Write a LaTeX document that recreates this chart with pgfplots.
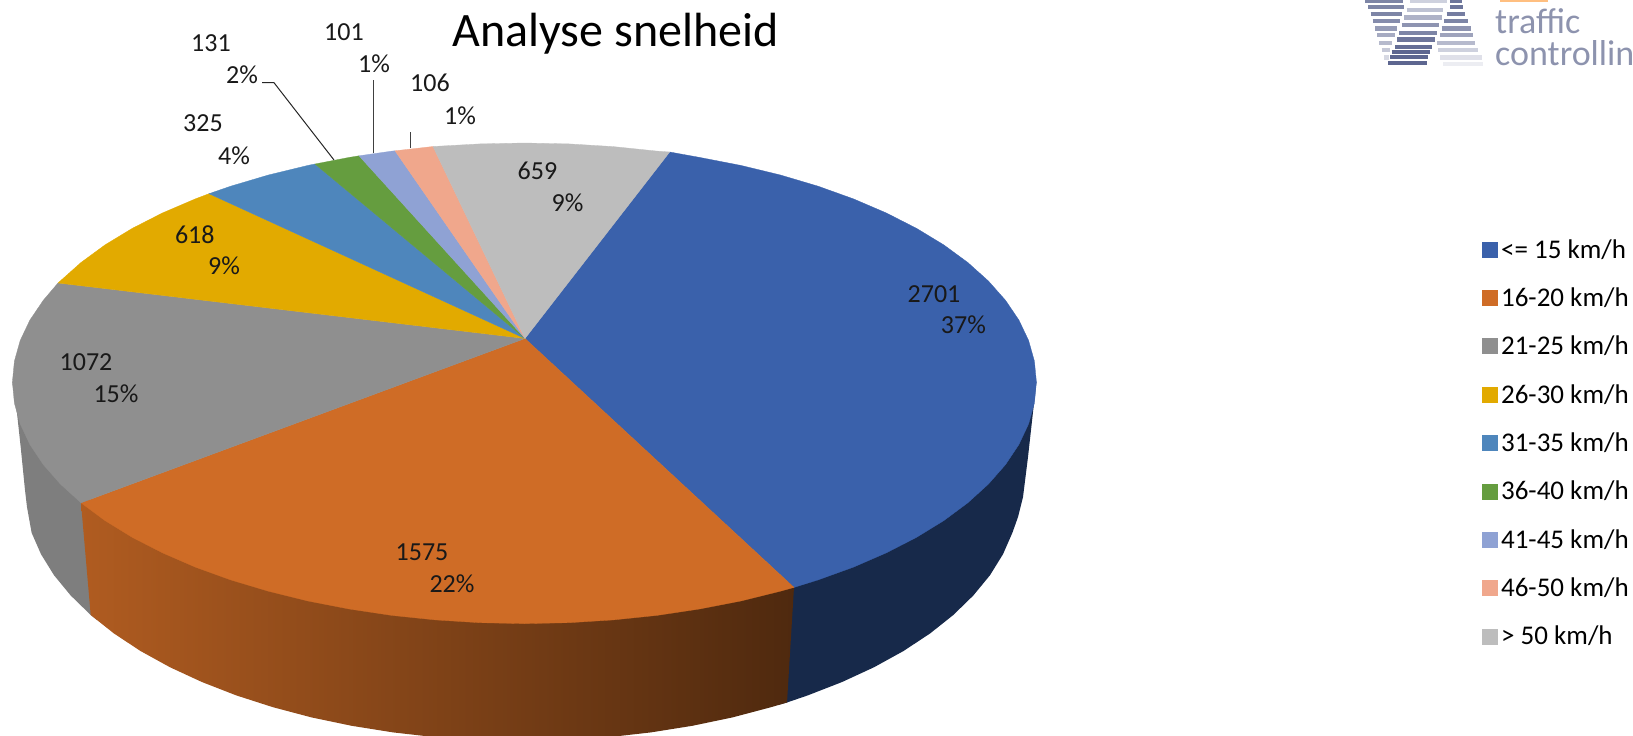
\documentclass[border=0pt]{standalone}
\usepackage{fontspec}
\setmainfont{Carlito}
\usepackage{pgfplots}
\pgfplotsset{compat=1.18}
\definecolor{cA}{HTML}{3A61AB}
\definecolor{cB}{HTML}{CF6C26}
\definecolor{cC}{HTML}{8F8F8F}
\definecolor{cD}{HTML}{E2AA00}
\definecolor{cE}{HTML}{4E86BC}
\definecolor{cF}{HTML}{659D3F}
\definecolor{cG}{HTML}{8FA2D4}
\definecolor{cH}{HTML}{F0A78C}
\definecolor{cI}{HTML}{BDBDBD}
\definecolor{wallA}{HTML}{17294A}
\definecolor{logo}{HTML}{5D6690}
\definecolor{logotxt}{HTML}{8D93AE}
\newcommand{\lab}{\fontsize{26}{28}\selectfont}
\begin{document}
\begin{tikzpicture}
\useasboundingbox (0,0) rectangle (1633pt,736pt);
\clip (0,0) rectangle (1633pt,736pt);
\begin{axis}[at={(0,0)},anchor=south west,scale only axis,width=1633pt,height=736pt,
  xmin=0,xmax=1633,ymin=0,ymax=736,y dir=reverse,hide axis,clip=true,
  title={Analyse snelheid},
  title style={at={(0.3769,0.9466)},anchor=center,font=\fontsize{48}{50}\selectfont,inner sep=0pt},
  legend cell align=left,
  legend image code/.code={\fill[#1] (0pt,-7.5pt) rectangle (15pt,7.5pt);},
  legend style={at={(0.9076,0.6765)},anchor=north west,draw=none,fill=none,font=\fontsize{27}{29}\selectfont,
    inner xsep=0pt,inner ysep=0pt,row sep=26.1pt,nodes={inner xsep=3.5pt,inner ysep=1pt}},
  logoline/.style={forget plot,line width=4.4pt},
]
% side walls
\addplot[forget plot,fill=wallA,draw=none] coordinates {(782,587)(1036.4,382)(1034,403)(1028,457)(1023,497)(1018,517)(1012.4,532.7)(1003,554.2)(990,575.2)(973.3,595.5)(953.3,615)(930,633.5)(903.5,651)(874.1,667.2)(842.1,682)(807.7,695.4)(787,702.5)(778,705)} --cycle;
\addplot[forget plot,fill=cC!88!black,draw=none] coordinates {(12.4,382)(92,503)(97,620)(90.7,615)(70.7,595.5)(54,575.2)(41,554.2)(31.6,532.7)(27,507)(25,490)(21,450)(17,413)} --cycle;
\addplot[forget plot,draw=none,left color=cB!85!black,middle color=cB!58!black,right color=cB!38!black] coordinates {(81,503)(794,587)(787,702.5)(771,707.2)(732.5,717.4)(692.3,725.8)(650.9,732.4)(608.5,737.2)(565.4,740)(522,741)(478.6,740)(435.5,737.2)(393.1,732.4)(351.7,725.8)(311.5,717.4)(273,707.2)(236.3,695.4)(201.9,682)(169.9,667.2)(140.5,651)(114,633.5)(90.7,615)} --cycle;
% top faces
\addplot[fill=cA,draw=cA,line width=0.3pt] coordinates {(525,338.5)(669.7,152)(699.5,157.4)(740.8,165.4)(780.4,175)(818.1,186.2)(853.5,198.9)(886.4,213)(916.6,228.4)(943.8,244.9)(967.8,262.5)(988.4,281)(1005.5,300.3)(1018.9,320.1)(1028.6,340.5)(1034.4,361.2)(1036.4,382)(1034.4,403.1)(1028.6,423.9)(1018.9,444.5)(1005.5,464.6)(988.4,484.1)(967.8,502.8)(943.8,520.6)(916.6,537.3)(886.4,552.8)(853.5,567.1)(818.1,579.9)(794,587.4)} --cycle;
\addlegendentry{<= 15 km/h}
\addplot[fill=cB,draw=cB,line width=0.3pt] coordinates {(525,338.5)(794,587.4)(780.4,591.2)(740.8,601)(699.5,609)(656.9,615.4)(613.3,619.9)(569,622.7)(524.4,623.6)(479.8,622.7)(435.5,619.9)(391.9,615.4)(349.3,609)(308,601)(268.4,591.2)(230.7,579.9)(195.3,567.1)(162.4,552.8)(132.2,537.3)(105,520.6)(81,502.8)} --cycle;
\addlegendentry{16-20 km/h}
\addplot[fill=cC,draw=cC,line width=0.3pt] coordinates {(525,338.5)(81,502.8)(60.4,484.1)(43.3,464.6)(29.9,444.5)(20.2,423.9)(14.4,403.1)(12.4,382)(14.4,361.2)(20.2,340.5)(29.9,320.1)(43.3,300.3)(58,283)} --cycle;
\addlegendentry{21-25 km/h}
\addplot[fill=cD,draw=cD,line width=0.3pt] coordinates {(525,338.5)(58,283)(81,262.5)(105,244.9)(132.2,228.4)(162.4,213)(195.3,198.9)(209,193.7)} --cycle;
\addlegendentry{26-30 km/h}
\addplot[fill=cE,draw=cE,line width=0.3pt] coordinates {(525,338.5)(209,193.7)(230.7,186.2)(268.4,175)(308,165.4)(315,164)} --cycle;
\addlegendentry{31-35 km/h}
\addplot[fill=cF,draw=cF,line width=0.3pt] coordinates {(525,338.5)(315,164)(349.3,157.4)(359,155.8)} --cycle;
\addlegendentry{36-40 km/h}
\addplot[fill=cG,draw=cG,line width=0.3pt] coordinates {(525,338.5)(359,155.8)(391.9,151.1)(395,150.8)} --cycle;
\addlegendentry{41-45 km/h}
\addplot[fill=cH,draw=cH,line width=0.3pt] coordinates {(525,338.5)(395,150.8)(433,146.5)} --cycle;
\addlegendentry{46-50 km/h}
\addplot[fill=cI,draw=cI,line width=0.3pt] coordinates {(525,338.5)(433,146.5)(479.8,143.9)(524.4,143)(569,143.9)(613.3,146.6)(656.9,151.1)(669.7,152)} --cycle;
\addlegendentry{> 50 km/h}
% leader lines
\addplot[forget plot,draw=black!85,line width=1pt] coordinates {(262,82.7)(274,82.7)(334,160)};
\addplot[forget plot,draw=black!75,line width=1pt] coordinates {(373.7,80)(373.7,153)};
\addplot[forget plot,draw=black!75,line width=1pt] coordinates {(410.7,132)(410.7,148)};
% logo stripes
\addplot[logoline,draw=logo!80] coordinates {(1365,1)(1403,1)};
\addplot[logoline,draw=logo!80] coordinates {(1368.3,6.7)(1404,6.7)};
\addplot[logoline,draw=logo!80] coordinates {(1370.7,14)(1401.7,14)};
\addplot[logoline,draw=logo!75] coordinates {(1372.7,21)(1400,21)};
\addplot[logoline,draw=logo!65] coordinates {(1375,28.3)(1396.7,28.3)};
\addplot[logoline,draw=logo!55] coordinates {(1377.3,35)(1395,35)};
\addplot[logoline,draw=logo!45] coordinates {(1379.3,42.7)(1391.7,42.7)};
\addplot[logoline,draw=logo!35] coordinates {(1381.7,50)(1390,50)};
\addplot[logoline,draw=logo!25] coordinates {(1384,57.3)(1389,57.3)};
\addplot[logoline,draw=logo!30] coordinates {(1410,1)(1446.7,1)};
\addplot[logoline,draw=logo!40] coordinates {(1406.7,10)(1443.3,10)};
\addplot[logoline,draw=logo!50] coordinates {(1404,17.3)(1441.7,17.3)};
\addplot[logoline,draw=logo!70] coordinates {(1401.7,25)(1439.3,25)};
\addplot[logoline,draw=logo!80] coordinates {(1399.3,32.7)(1436.7,32.7)};
\addplot[logoline,draw=logo!90] coordinates {(1397.3,39.3)(1435,39.3)};
\addplot[logoline,draw=logo!95] coordinates {(1395,46.7)(1431.7,46.7)};
\addplot[logoline,draw=logo] coordinates {(1391.7,52)(1430,52)};
\addplot[logoline,draw=logo] coordinates {(1390,57)(1428.3,57)};
\addplot[logoline,draw=logo] coordinates {(1388.3,63)(1426.7,63)};
\addplot[logoline,draw=logo!90] coordinates {(1450,1)(1461.7,1)};
\addplot[logoline,draw=logo!90] coordinates {(1450,6.7)(1463,6.7)};
\addplot[logoline,draw=logo!85] coordinates {(1446.7,14)(1465,14)};
\addplot[logoline,draw=logo!80] coordinates {(1444,21)(1468.3,21)};
\addplot[logoline,draw=logo!70] coordinates {(1441.7,28.3)(1470.7,28.3)};
\addplot[logoline,draw=logo!60] coordinates {(1440,35)(1472.7,35)};
\addplot[logoline,draw=logo!45] coordinates {(1437.3,42.7)(1475,42.7)};
\addplot[logoline,draw=logo!30] coordinates {(1438.3,50)(1478.3,50)};
\addplot[logoline,draw=logo!20] coordinates {(1440,57.3)(1481.7,57.3)};
\addplot[logoline,draw=logo!12] coordinates {(1443.3,64)(1483.3,64)};
\addplot[forget plot,draw=orange!50,line width=2pt] coordinates {(1500,0.5)(1548,0.5)};
% labels
\begin{scope}[every node/.style={font=\lab,text=black!90,inner sep=0pt,anchor=center}]
\node at (axis cs:934,293.7) {2701};
\node at (axis cs:963.4,325) {37\%};
\node at (axis cs:422,552) {1575};
\node at (axis cs:452,584) {22\%};
\node at (axis cs:86,362) {1072};
\node at (axis cs:116,394) {15\%};
\node at (axis cs:194.8,234.3) {618};
\node at (axis cs:224,265.6) {9\%};
\node at (axis cs:203,123) {325};
\node at (axis cs:234,156) {4\%};
\node at (axis cs:211,42.7) {131};
\node at (axis cs:242,75) {2\%};
\node at (axis cs:344,32) {101};
\node at (axis cs:374,64) {1\%};
\node at (axis cs:430,83) {106};
\node at (axis cs:460,116) {1\%};
\node at (axis cs:537.4,170.8) {659};
\node at (axis cs:567.6,203) {9\%};
\end{scope}
\node[anchor=base west,inner sep=0pt,text=logotxt,font=\fontsize{36}{38}\selectfont] at (axis cs:1495,33) {traffic};
\node[anchor=base west,inner sep=0pt,text=logotxt,font=\fontsize{36}{38}\selectfont] at (axis cs:1495,65) {controlling};
\end{axis}
\end{tikzpicture}
\end{document}
